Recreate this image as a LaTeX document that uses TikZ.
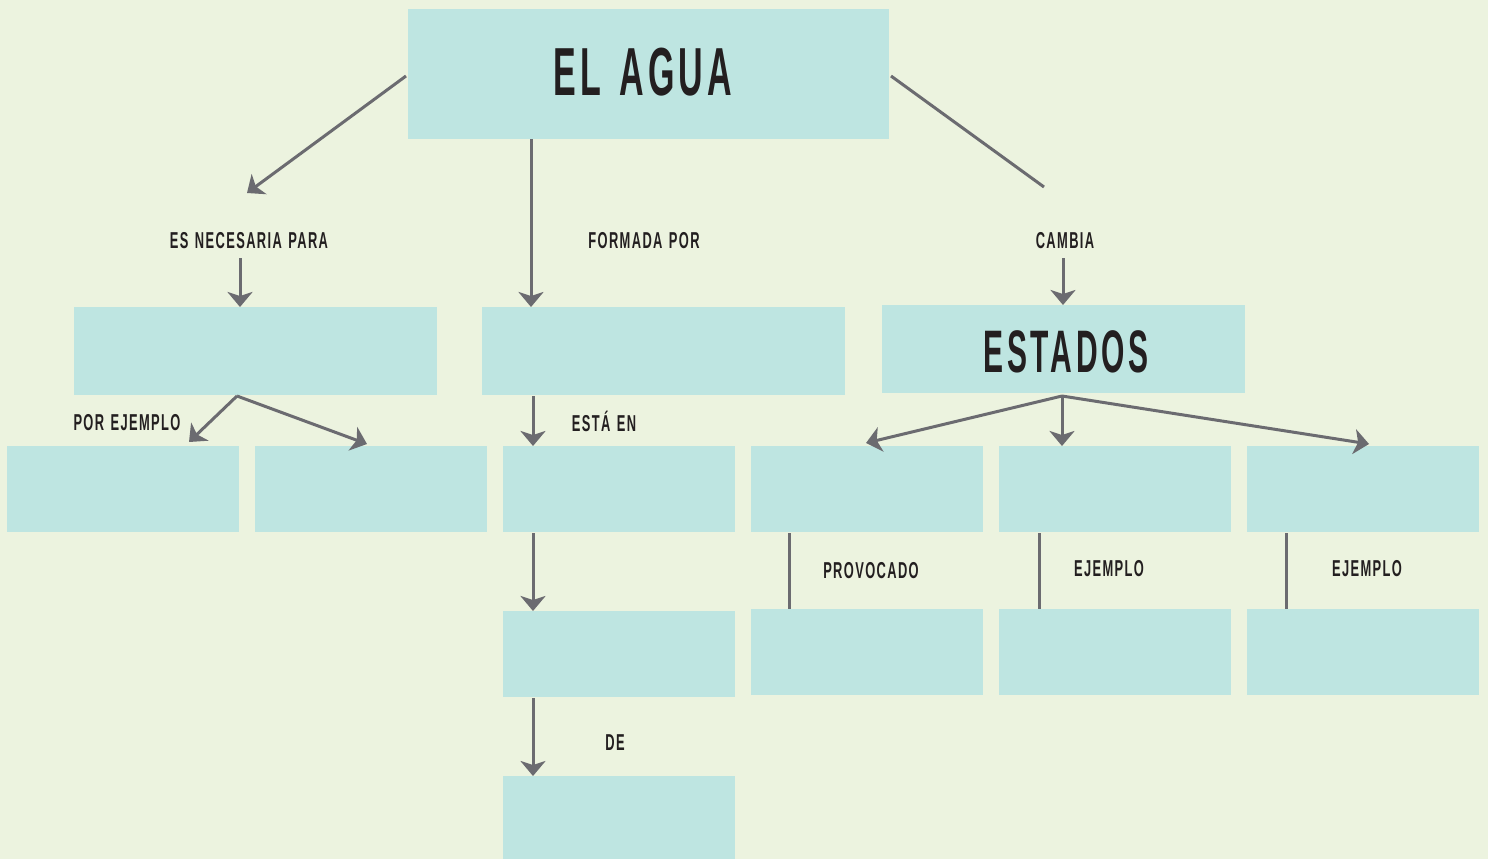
\documentclass[tikz,border=0pt]{standalone}
\usepackage{fontspec}
\usetikzlibrary{arrows.meta}
\newfontfamily\bebasL{Liberation Sans}[FakeStretch=0.5,LetterSpace=6.2,WordSpace=1.3]
\newfontfamily\bebasS{Liberation Sans}[FakeStretch=0.56,LetterSpace=6.0,WordSpace=1.3]
\definecolor{bg}{HTML}{ECF3DF}
\definecolor{boxc}{HTML}{BEE5E1}
\definecolor{linec}{HTML}{6B6B70}
\definecolor{txt}{HTML}{231F20}
\tikzset{
  cbox/.style={fill=boxc, draw=none, inner sep=0pt, anchor=north west},
  lbl/.style={text=txt, inner sep=0pt, font=\bebasS\bfseries\fontsize{23pt}{23pt}\selectfont},
  big/.style={text=txt, inner sep=0pt, font=\bebasL\bfseries\fontsize{68pt}{68pt}\selectfont},
  conn/.style={draw=linec, line width=3pt},
  arr/.style={conn, -{Stealth[length=15pt,width=25pt,inset=4pt]}},
}
\newcommand{\boxat}[5]{\node[cbox, minimum width=#4pt, minimum height=#5pt] (#1) at (#2,#3) {};}
\begin{document}
\begin{tikzpicture}[x=1pt,y=-1pt]
\fill[bg] (0,0) rectangle (1488,859);
\useasboundingbox (0,0) rectangle (1488,859);
% boxes
\boxat{top}{408}{9}{481}{130}
\boxat{A}{74}{307}{363}{88}
\boxat{B}{482}{307}{363}{88}
\boxat{C}{882}{305}{363}{88}
\boxat{r1}{7}{446}{232}{86}
\boxat{r2}{255}{446}{232}{86}
\boxat{r3}{503}{446}{232}{86}
\boxat{r4}{751}{446}{232}{86}
\boxat{r5}{999}{446}{232}{86}
\boxat{r6}{1247}{446}{232}{86}
\boxat{m1}{503}{611}{232}{86}
\boxat{m2}{503}{776}{232}{86}
\boxat{s4}{751}{609}{232}{86}
\boxat{s5}{999}{609}{232}{86}
\boxat{s6}{1247}{609}{232}{86}
% titles
\node[big] (tEl) at (643,72) {EL AGUA};
\node[big, font=\bebasL\bfseries\fontsize{60pt}{60pt}\selectfont] (tEst) at (1066,352) {ESTADOS};
% labels
\node[lbl] (lNec) at (249,241) {ES NECESARIA PARA};
\node[lbl] (lFor) at (644,241) {FORMADA POR};
\node[lbl] (lCam) at (1065,241) {CAMBIA};
\node[lbl] (lPor) at (127,423) {POR EJEMPLO};
\node[lbl] (lEst) at (604,421) {ESTÁ EN};
\node[lbl] (lDe) at (615,743) {DE};
\node[lbl] (lPro) at (871,571) {PROVOCADO};
\node[lbl] (lEj1) at (1109,569) {EJEMPLO};
\node[lbl] (lEj2) at (1367,569) {EJEMPLO};
% coordinates
\coordinate (p1) at (406,76);
\coordinate (p1e) at (247,193);
\coordinate (p2) at (531,139);
\coordinate (p3) at (891,76);
\coordinate (p3e) at (1044,187);
\coordinate (aN) at (240,258);
\coordinate (aC) at (1063,258);
\coordinate (Ab) at (237,396);
\coordinate (Bb) at (533,396);
\coordinate (Cb) at (1062,396);
% connectors
\draw[arr] (p1) -- (p1e);
\draw[arr] (p2) -- (p2 |- B.north);
\draw[conn] (p3) -- (p3e);
\draw[arr] (aN) -- (aN |- A.north);
\draw[arr] (aC) -- (aC |- C.north);
\draw[arr] (Ab) -- (189,442);
\draw[arr] (Ab) -- (367,444);
\draw[arr] (Bb) -- (Bb |- r3.north);
\draw[arr] (Cb) -- (866,443);
\draw[arr] (Cb) -- (Cb |- r5.north);
\draw[arr] (Cb) -- (1369,444);
\draw[arr] (533,533) -- (533,611);
\draw[arr] (533,698) -- (533,776);
\draw[conn] (789,533) -- (789,609);
\draw[conn] (1039,533) -- (1039,609);
\draw[conn] (1286,533) -- (1286,609);
\end{tikzpicture}
\end{document}
